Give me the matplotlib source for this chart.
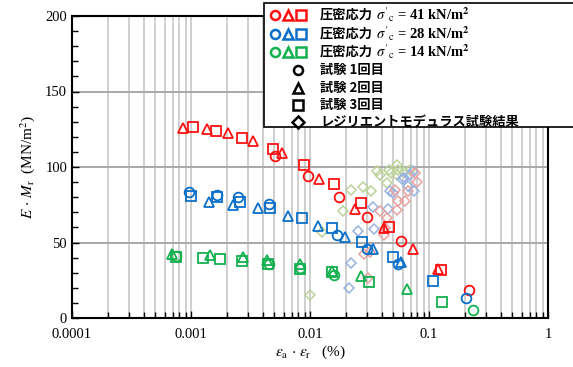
import numpy as np
import matplotlib.pyplot as plt
from matplotlib.patches import Rectangle
from matplotlib.ticker import LogLocator, NullFormatter, MultipleLocator

plt.rcParams['mathtext.fontset'] = 'stix'
plt.rcParams['font.family'] = ['Liberation Serif', 'Noto Sans CJK JP']

# ---- data: confining stress 41 kN/m2 (red)
r1_x = [0.00508, 0.00968, 0.0175, 0.0303, 0.0578, 0.216]
r1_y = [107.5, 94.3, 80.4, 67.2, 51.3, 18.5]
r2_x = [0.000861, 0.00136, 0.00203, 0.00332, 0.00582, 0.0118, 0.0239, 0.0419, 0.0738, 0.118]
r2_y = [125.6, 124.9, 122.3, 117.4, 109.5, 91.9, 72.0, 59.5, 45.6, 32.6]
r3_x = [0.00103, 0.00162, 0.00268, 0.00492, 0.00895, 0.0159, 0.0267, 0.0461, 0.126]
r3_y = [126.2, 123.8, 119.4, 111.7, 101.3, 88.8, 76.0, 60.5, 31.5]

# ---- 28 kN/m2 (blue)
b1_x = [0.000962, 0.00164, 0.0025, 0.0045, 0.0168, 0.0299, 0.0552, 0.206]
b1_y = [83.7, 81.5, 80.4, 75.3, 55.1, 45.6, 35.7, 13.2]
b2_x = [0.00142, 0.00224, 0.00366, 0.0065, 0.0117, 0.0198, 0.034, 0.0582]
b2_y = [76.9, 74.9, 72.7, 67.3, 61.0, 53.9, 45.6, 37.0]
b3_x = [0.001, 0.00164, 0.00259, 0.00463, 0.0086, 0.0153, 0.0272, 0.0495, 0.109]
b3_y = [81.0, 80.2, 76.7, 73.1, 66.1, 59.7, 50.6, 40.3, 24.7]

# ---- 14 kN/m2 (green)
g1_x = [0.00075, 0.0045, 0.0083, 0.0159, 0.233]
g1_y = [40.8, 35.5, 32.8, 28.6, 5.5]
g2_x = [0.000697, 0.00145, 0.00275, 0.00437, 0.00824, 0.0152, 0.0268, 0.0657]
g2_y = [42.5, 41.8, 40.3, 38.5, 35.9, 31.3, 27.5, 19.2]
g3_x = [0.000743, 0.00125, 0.00176, 0.0027, 0.00446, 0.00824, 0.0152, 0.0315, 0.129]
g3_y = [40.3, 39.7, 39.2, 37.9, 35.7, 32.6, 30.4, 23.8, 10.6]

# ---- resilient modulus test results (diamonds)
gd_x = [0.01, 0.0125, 0.0188, 0.022, 0.0281, 0.0326, 0.0363, 0.0387, 0.0441,
        0.0461, 0.048, 0.0542, 0.0552, 0.054, 0.062, 0.0692]
gd_y = [15.4, 56.7, 70.9, 84.8, 86.6, 84.3, 97.2, 94.5, 89.4,
        98.2, 96.0, 101.5, 97.8, 94.7, 96.7, 97.8]
bd_x = [0.0214, 0.022, 0.0253, 0.0345, 0.034, 0.0455, 0.047, 0.0494, 0.059,
        0.062, 0.0692, 0.0738, 0.067, 0.0752]
bd_y = [19.6, 36.7, 57.7, 58.8, 73.8, 71.9, 83.9, 82.8, 92.3,
        92.7, 94.5, 97.2, 87.2, 83.9]
rd_x = [0.0309, 0.0284, 0.0319, 0.0416, 0.0427, 0.0387, 0.0441, 0.0546, 0.0628,
        0.0518, 0.067, 0.0788, 0.0762, 0.0536]
rd_y = [26.4, 42.5, 43.4, 54.9, 59.7, 70.9, 66.3, 77.3, 77.3,
        84.6, 83.9, 89.9, 96.0, 71.6]

red = '#FF1010'
blue = '#0A6FC8'
green = '#12B04E'

W, H = 573, 367
fig = plt.figure(figsize=(W / 100, H / 100), dpi=100)
ax = fig.add_axes([72 / W, 1 - 318 / H, 476 / W, 302 / H])

ax.set_xscale('log')
ax.set_xlim(0.0001, 1)
ax.set_ylim(0, 200)

# grid
ax.xaxis.set_minor_locator(LogLocator(base=10, subs=np.arange(2, 10)))
ax.xaxis.set_minor_formatter(NullFormatter())
ax.grid(True, which='both', axis='x', color='#cfcfcf', lw=1.4, zorder=0)
ax.set_yticks([0, 50, 100, 150, 200])
ax.yaxis.set_minor_locator(MultipleLocator(10))
ax.grid(True, which='major', axis='y', color='#a8a8a8', lw=1.4, zorder=0)
ax.set_axisbelow(True)

ax.tick_params(which='both', direction='in', top=False, right=False, width=1.0, labelsize=10.5)
ax.tick_params(which='major', length=5)
ax.tick_params(which='minor', length=4)
ax.set_xticks([0.0001, 0.001, 0.01, 0.1, 1])
ax.set_xticklabels(['0.0001', '0.001', '0.01', '0.1', '1'])
ax.tick_params(axis='x', pad=7)
for s in ax.spines.values():
    s.set_linewidth(1.5)

dkw = dict(ls='none', marker='D', ms=5.5, mfc='none', mew=1.1, zorder=2)
ax.plot(gd_x, gd_y, mec='#bcd49a', **dkw)
ax.plot(bd_x, bd_y, mec='#98b2df', **dkw)
ax.plot(rd_x, rd_y, mec='#e8a2a2', **dkw)

mkw = dict(ls='none', mfc='none', ms=7, mew=1.3, zorder=3)
for c, sets in [(red, [(r1_x, r1_y), (r2_x, r2_y), (r3_x, r3_y)]),
                (blue, [(b1_x, b1_y), (b2_x, b2_y), (b3_x, b3_y)]),
                (green, [(g1_x, g1_y), (g2_x, g2_y), (g3_x, g3_y)])]:
    for m, (xs, ys) in zip(['o', '^', 's'], sets):
        ax.plot(xs, ys, marker=m, mec=c, **mkw)

ax.set_ylabel(r'$E$ $\cdot$ $M_{\rm r}$  (MN/m$^2$)', fontsize=11, labelpad=6)
ax.set_xlabel(r'$\varepsilon_{\rm a}$ $\cdot$ $\varepsilon_{\rm r}$   (%)', fontsize=11, labelpad=2)

# ---- legend box
fig.add_artist(Rectangle((264 / W, 1 - 127 / H), 320 / W, 124 / H, transform=fig.transFigure,
                         facecolor='white', edgecolor='black', lw=1.2, zorder=5))

def fx(px):
    return px / W

def fy(py):
    return 1 - py / H

cjk = ['Noto Sans CJK JP']
rows = [(red, '41'), (blue, '28'), (green, '14')]
for i, (c, v) in enumerate(rows):
    yy = [15, 33.5, 52][i]
    for m, xx in zip(['o', '^', 's'], [275, 288, 301]):
        fig.add_artist(plt.Line2D([fx(xx)], [fy(yy)], marker=m, ms=6.5, mew=1.8, mfc='none',
                                  mec=c, transform=fig.transFigure, zorder=6))
    fig.text(fx(320), fy(yy), '圧密応力', family=cjk, weight='bold', fontsize=9.5,
             va='center', ha='left', zorder=7)
    fig.text(fx(376), fy(yy), r"$\sigma'_{\rm c}$ = " + v + r" kN/m$^{\bf 2}$",
             fontsize=10.5, weight='bold', va='center', ha='left', zorder=7)

for yy, m, lab in [(70, 'o', '試験 1回目'), (87.5, '^', '試験 2回目'),
                   (105, 's', '試験 3回目'), (122, 'D', 'レジリエントモデュラス試験結果')]:
    fig.add_artist(plt.Line2D([fx(298)], [fy(yy)], marker=m, ms=6.5 if m != 'D' else 6,
                              mew=1.8, mfc='none', mec='black',
                              transform=fig.transFigure, zorder=6))
    fig.text(fx(320), fy(yy), lab, family=cjk, weight='bold', fontsize=9.5,
             va='center', ha='left', zorder=7)

fig.savefig('out.png', dpi=100)
